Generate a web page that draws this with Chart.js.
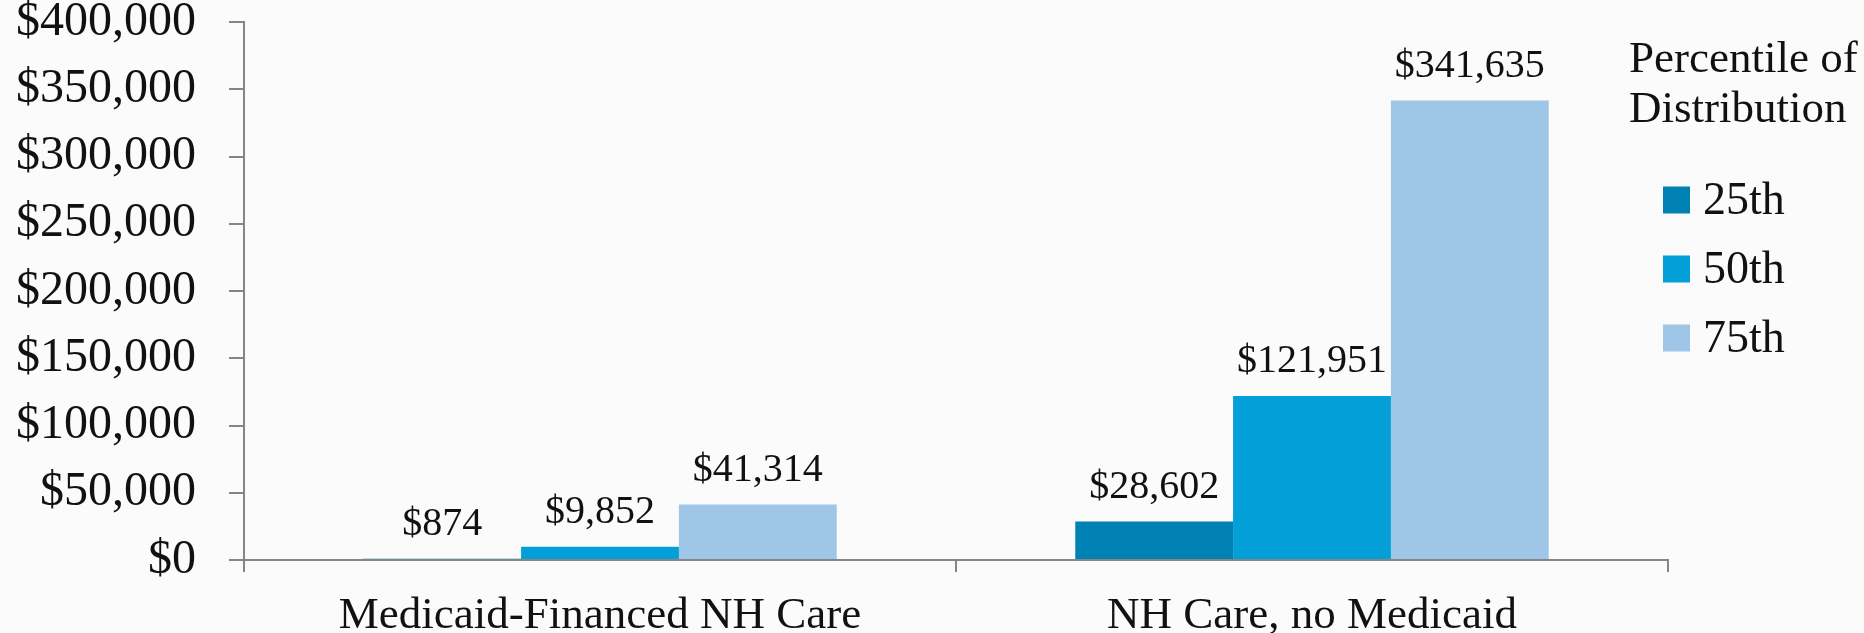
<!DOCTYPE html>
<html>
<head>
<meta charset="utf-8">
<script src="https://cdn.jsdelivr.net/npm/chart.js@4/dist/chart.umd.min.js"></script>
<style>
  html, body { margin: 0; padding: 0; background: #fbfbfb; }
  canvas { display: block; }
</style>
</head>
<body>
<canvas id="chart" width="1864" height="633"></canvas>
<script>
// ── Data ─────────────────────────────────────────
const categories = ['Medicaid-Financed NH Care', 'NH Care, no Medicaid'];
const seriesLabels = ['25th', '50th', '75th'];
const p25 = [874, 28602];
const p50 = [9852, 121951];
const p75 = [41314, 341635];
const legendTitle = ['Percentile of', 'Distribution'];

const seriesColors = ['#0081B3', '#029FD9', '#A0C6E7'];
const axisColor = '#858585';
const FONT = '"Liberation Serif", "Times New Roman", serif';

const money = (v) => '$' + Number(v).toLocaleString('en-US');

// ── Label nilai di atas bar ──────────────────────
const valueLabels = {
    id: 'valueLabels',
    afterDatasetsDraw(chart) {
        const ctx = chart.ctx;
        ctx.save();
        ctx.font = '40px ' + FONT;
        ctx.fillStyle = '#111';
        ctx.textAlign = 'center';
        ctx.textBaseline = 'middle';
        chart.data.datasets.forEach((ds, i) => {
            chart.getDatasetMeta(i).data.forEach((bar, j) => {
                ctx.fillText(money(ds.data[j]), bar.x, bar.y - 34);
            });
        });
        ctx.restore();
    }
};

// ── Legend manual (di kanan, menumpuk area plot) ──
const sideLegend = {
    id: 'sideLegend',
    afterDraw(chart) {
        const ctx = chart.ctx;
        ctx.save();
        ctx.font = '45px ' + FONT;
        ctx.fillStyle = '#111';
        ctx.textAlign = 'left';
        ctx.textBaseline = 'alphabetic';
        legendTitle.forEach((t, i) => ctx.fillText(t, 1629, 72 + i * 50));
        ctx.font = '46px ' + FONT;
        chart.data.datasets.forEach((ds, i) => {
            const cy = 200 + i * 69;
            ctx.fillStyle = ds.backgroundColor;
            ctx.fillRect(1663, cy - 13.5, 27, 27);
            ctx.fillStyle = '#111';
            ctx.fillText(ds.label, 1703, cy + 14);
        });
        ctx.restore();
    }
};

new Chart(document.getElementById('chart'), {
    type: 'bar',
    data: {
        labels: categories,
        datasets: [p25, p50, p75].map((d, i) => ({
            label: seriesLabels[i],
            data: d,
            backgroundColor: seriesColors[i],
            borderWidth: 0,
            categoryPercentage: 0.665,
            barPercentage: 1.0
        }))
    },
    options: {
        responsive: false,
        animation: false,
        layout: { padding: { top: 22, right: 196, left: 0, bottom: 0 } },
        plugins: {
            legend: { display: false },
            tooltip: { enabled: false }
        },
        scales: {
            x: {
                grid: {
                    drawOnChartArea: false,
                    offset: true,
                    tickLength: 12,
                    color: axisColor,
                    lineWidth: 2
                },
                border: { color: axisColor, width: 2 },
                ticks: {
                    color: '#111',
                    font: { family: FONT, size: 45, lineHeight: 1 },
                    padding: 22,
                    maxRotation: 0
                },
                afterFit: (s) => { s.height = 73; }
            },
            y: {
                min: 0,
                max: 400000,
                grid: {
                    drawOnChartArea: false,
                    tickLength: 15,
                    color: axisColor,
                    lineWidth: 2
                },
                border: { color: axisColor, width: 2 },
                ticks: {
                    stepSize: 50000,
                    color: '#111',
                    font: { family: FONT, size: 48, lineHeight: 1 },
                    padding: 33,
                    callback: (v) => money(v)
                },
                afterFit: (s) => {
                    s.width = 244;
                    s.paddingTop = 0;
                    s.paddingBottom = 0;
                }
            }
        }
    },
    plugins: [valueLabels, sideLegend]
});
</script>
</body>
</html>
